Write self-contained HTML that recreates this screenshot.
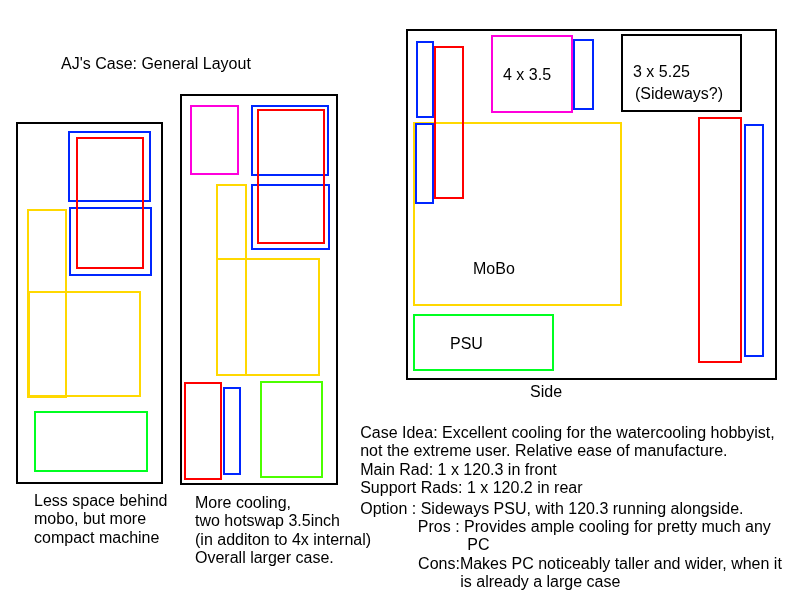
<!DOCTYPE html>
<html><head><meta charset="utf-8"><title>AJ's Case: General Layout</title>
<style>html,body{margin:0;padding:0;background:#fff;overflow:hidden}svg{display:block;will-change:transform}text{font-family:"Liberation Sans",sans-serif;font-size:16px;fill:#000}</style>
</head><body>
<svg width="800" height="600" viewBox="0 0 800 600">
<rect x="0" y="0" width="800" height="600" fill="#ffffff"/>
<g fill="none" stroke-width="2" shape-rendering="crispEdges">
<rect x="28" y="210" width="38" height="187" stroke="#ffd800"/>
<rect x="29" y="292" width="111" height="104" stroke="#ffd800"/>
<rect x="69" y="132" width="81" height="69" stroke="#0026ff"/>
<rect x="70" y="208" width="81" height="67" stroke="#0026ff"/>
<rect x="77" y="138" width="66" height="130" stroke="#ff0000"/>
<rect x="35" y="412" width="112" height="59" stroke="#00ff21"/>
<rect x="17" y="123" width="145" height="360" stroke="#000000"/>
<rect x="191" y="106" width="47" height="68" stroke="#ff00dc"/>
<rect x="217" y="185" width="29" height="190" stroke="#ffd800"/>
<rect x="217" y="259" width="102" height="116" stroke="#ffd800"/>
<rect x="252" y="106" width="76" height="69" stroke="#0026ff"/>
<rect x="252" y="185" width="77" height="64" stroke="#0026ff"/>
<rect x="258" y="110" width="66" height="133" stroke="#ff0000"/>
<rect x="185" y="383" width="36" height="96" stroke="#ff0000"/>
<rect x="224" y="388" width="16" height="86" stroke="#0026ff"/>
<rect x="261" y="382" width="61" height="95" stroke="#4cff00"/>
<rect x="181" y="95" width="156" height="389" stroke="#000000"/>
<rect x="414" y="123" width="207" height="182" stroke="#ffd800"/>
<rect x="417" y="42" width="16" height="75" stroke="#0026ff"/>
<rect x="416" y="124" width="17" height="79" stroke="#0026ff"/>
<rect x="435" y="47" width="28" height="151" stroke="#ff0000"/>
<rect x="492" y="36" width="80" height="76" stroke="#ff00dc"/>
<rect x="574" y="40" width="19" height="69" stroke="#0026ff"/>
<rect x="622" y="35" width="119" height="76" stroke="#000000"/>
<rect x="699" y="118" width="42" height="244" stroke="#ff0000"/>
<rect x="745" y="125" width="18" height="231" stroke="#0026ff"/>
<rect x="414" y="315" width="139" height="55" stroke="#00ff21"/>
<rect x="407" y="30" width="369" height="349" stroke="#000000"/>
</g>
<g>
<text x="61" y="69">AJ&#x27;s Case: General Layout</text>
<text x="34" y="505.5">Less space behind</text>
<text x="34" y="524">mobo, but more</text>
<text x="34" y="542.5">compact machine</text>
<text x="195" y="507.5">More cooling,</text>
<text x="195" y="526">two hotswap 3.5inch</text>
<text x="195" y="544.5">(in additon to 4x internal)</text>
<text x="195" y="562.5">Overall larger case.</text>
<text x="503" y="80">4 x 3.5</text>
<text x="633" y="77">3 x 5.25</text>
<text x="635" y="98.6">(Sideways?)</text>
<text x="473" y="274">MoBo</text>
<text x="450" y="349">PSU</text>
<text x="530" y="397">Side</text>
<text x="360.2" y="438">Case Idea: Excellent cooling for the watercooling hobbyist,</text>
<text x="360.2" y="456">not the extreme user. Relative ease of manufacture.</text>
<text x="360.2" y="474.5">Main Rad: 1 x 120.3 in front</text>
<text x="360.2" y="492.5">Support Rads: 1 x 120.2 in rear</text>
<text x="360.2" y="513.5">Option : Sideways PSU, with 120.3 running alongside.</text>
<text x="417.8" y="531.5">Pros : Provides ample cooling for pretty much any</text>
<text x="467.3" y="550.2">PC</text>
<text x="418.1" y="568.5">Cons:Makes PC noticeably taller and wider, when it</text>
<text x="460.3" y="586.5">is already a large case</text>
</g></svg></body></html>
